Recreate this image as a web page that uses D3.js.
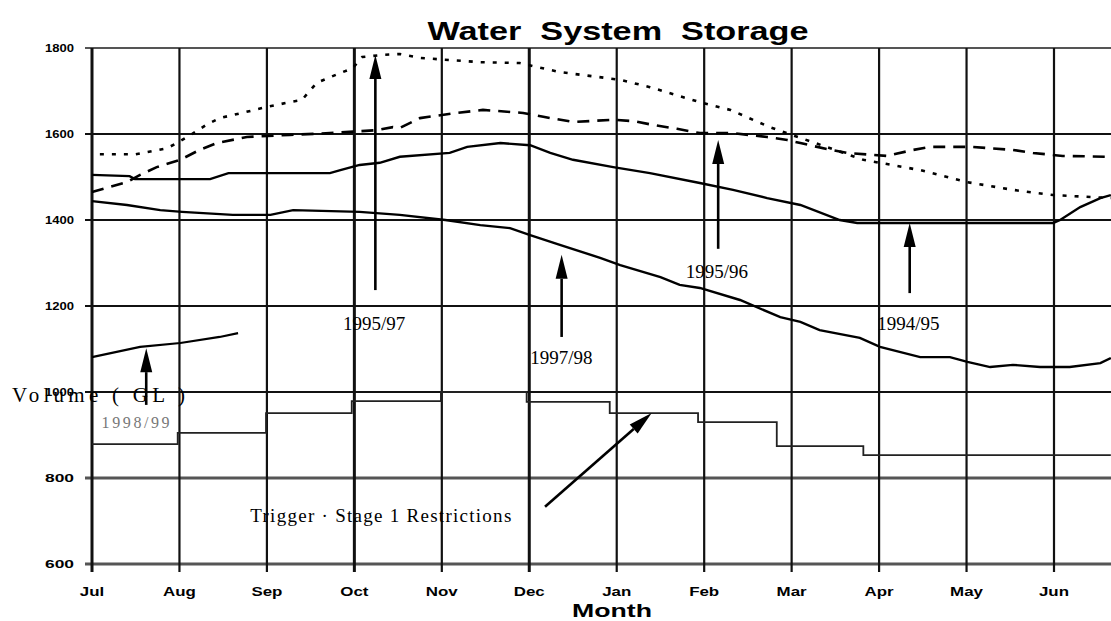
<!DOCTYPE html>
<html><head><meta charset="utf-8">
<script src="https://cdn.jsdelivr.net/npm/d3@7"></script>
<style>body{margin:0;background:#fff}svg{display:block}</style>
</head><body>
<svg id="c" width="1111" height="621"></svg>
<script>
const months = ["Jul","Aug","Sep","Oct","Nov","Dec","Jan","Feb","Mar","Apr","May","Jun"];
const yTicks = [600,800,1000,1200,1400,1600,1800];

// series: [month index (0 = Jul), volume GL]
const s199597 = [[0.09,1553],[0.5,1553],[0.86,1567],[0.97,1579],[1.09,1593],[1.32,1623],[1.46,1637],[1.86,1656],[2.0,1663],[2.26,1674],[2.4,1679],[2.57,1719],[2.84,1742],[2.98,1753],[3.09,1779],[3.33,1784],[3.52,1786],[3.75,1777],[4.09,1772],[4.44,1767],[4.89,1765],[5.35,1744],[6.04,1726],[6.38,1709],[6.95,1674],[7.3,1656],[7.75,1616],[8.1,1591],[8.82,1540],[9.01,1533],[9.47,1516],[10.01,1488],[10.53,1470],[10.99,1458],[11.65,1451]];
const s199596 = [[0,1465],[0.4,1488],[0.55,1505],[0.74,1523],[1.01,1540],[1.23,1563],[1.43,1579],[1.77,1593],[2.26,1598],[2.72,1602],[3.26,1609],[3.44,1616],[3.52,1614],[3.75,1637],[4.17,1649],[4.47,1656],[4.93,1649],[5.16,1640],[5.5,1628],[5.96,1633],[6.19,1630],[6.42,1621],[6.69,1612],[6.95,1602],[7.33,1602],[7.72,1593],[7.95,1586],[8.1,1579],[8.4,1565],[8.63,1556],[9.09,1549],[9.39,1563],[9.58,1570],[10.07,1570],[10.53,1563],[10.76,1556],[11.1,1549],[11.65,1547]];
const s199495 = [[0,1505],[0.43,1502],[0.49,1495],[1.35,1495],[1.56,1509],[2.72,1509],[2.84,1516],[3.06,1528],[3.29,1533],[3.52,1547],[4.09,1556],[4.29,1570],[4.67,1579],[5.01,1574],[5.24,1556],[5.5,1540],[5.96,1523],[6.38,1509],[6.95,1486],[7.33,1470],[7.72,1451],[8.1,1435],[8.55,1400],[8.75,1393],[10.99,1393],[11.07,1400],[11.3,1430],[11.53,1451],[11.65,1458]];
const s199798 = [[0,1444],[0.4,1435],[0.78,1423],[1.03,1419],[1.61,1412],[2.04,1412],[2.3,1423],[3.06,1419],[3.52,1412],[4.04,1400],[4.44,1388],[4.78,1381],[5.01,1365],[5.35,1342],[5.81,1312],[6.04,1295],[6.5,1267],[6.72,1249],[6.95,1242],[7.41,1214],[7.87,1174],[8.1,1163],[8.32,1144],[8.78,1126],[9.01,1105],[9.47,1081],[9.81,1081],[10.01,1070],[10.27,1058],[10.53,1063],[10.84,1058],[11.18,1058],[11.53,1067],[11.65,1079]];
const s199899 = [[0,1081],[0.55,1105],[1.01,1114],[1.46,1128],[1.67,1137]];
const triggerBreaks = [0,0.98,1.99,2.97,3.99,4.97,5.92,6.93,7.83,8.82,11.65];
const triggerValues = [879,905,951,979,1000,977,951,930,874,853];

// annotations: label, label position, arrow tail, arrow tip
const labels = [
  {t:"1995/97", m:2.87, v:1144},
  {t:"1997/98", m:5.01, v:1065},
  {t:"1995/96", m:6.79, v:1265},
  {t:"1994/95", m:8.98, v:1144},
  {t:"1998/99", m:0.11, v:916, grey:true, fs:16, len:68},
  {t:"Trigger · Stage 1 Restrictions", m:1.81, v:697, len:261}
];
const arrows = [
  {from:[3.24,1237], to:[3.24,1784]},
  {from:[5.37,1128], to:[5.37,1319]},
  {from:[7.16,1333], to:[7.16,1586]},
  {from:[9.35,1230], to:[9.35,1393]},
  {from:[0.62,970],  to:[0.62,1102]},
  {from:[5.18,733],  to:[6.4,951]}
];

const svg = d3.select("#c");
const x = d3.scaleLinear().domain([0,11]).range([92,1054]);
const y = d3.scaleLinear().domain([600,1800]).range([564,48]);
const SANS = "Liberation Sans, Arial, sans-serif";
const SERIF = "Liberation Serif, Times New Roman, serif";

// gridlines
svg.append("g").selectAll("line").data(yTicks).join("line")
  .attr("x1",85).attr("x2",1111).attr("y1",d=>y(d)).attr("y2",d=>y(d))
  .attr("stroke",d=>(d===600||d===800||d===1800)?"#555":"#111")
  .attr("stroke-width",d=>(d===600||d===800)?3:2.2);
svg.append("g").selectAll("line").data(months).join("line")
  .attr("x1",(d,i)=>x(i)).attr("x2",(d,i)=>x(i)).attr("y1",y(1800)).attr("y2",572)
  .attr("stroke","#111")
  .attr("stroke-width",(d,i)=>(i===0||i===3||i===5)?3:2.2);

// stretch helper: widen text horizontally like the scanned original
function stretch(sel, f){
  sel.each(function(){
    const w=this.getComputedTextLength();
    d3.select(this).attr("textLength",w*f).attr("lengthAdjust","spacingAndGlyphs");
  });
}

// y tick labels
svg.append("g").selectAll("text").data(yTicks).join("text")
  .attr("x",74).attr("y",d=>y(d)+4).attr("text-anchor","end")
  .attr("font-family",SANS).attr("font-weight","bold")
  .attr("font-size",11).attr("textLength",29).attr("lengthAdjust","spacingAndGlyphs")
  .text(d=>d);
// x tick labels
svg.append("g").selectAll("text").data(months).join("text")
  .attr("x",(d,i)=>x(i)).attr("y",596).attr("text-anchor","middle")
  .attr("font-family",SANS).attr("font-weight","bold")
  .attr("font-size",13).text(d=>d).call(stretch,1.3);

// title & axis titles
svg.append("text").attr("x",618).attr("y",40).attr("text-anchor","middle")
  .attr("font-family",SANS).attr("font-weight","bold").style("white-space","pre")
  .attr("font-size",25).attr("textLength",381).attr("lengthAdjust","spacingAndGlyphs")
  .text("Water  System  Storage");
svg.append("text").attr("x",612).attr("y",617).attr("text-anchor","middle")
  .attr("font-family",SANS).attr("font-weight","bold")
  .attr("font-size",18).attr("textLength",80).attr("lengthAdjust","spacingAndGlyphs")
  .text("Month");
svg.append("text").attr("x",12).attr("y",402)
  .attr("font-family",SERIF)
  .attr("font-size",21).attr("textLength",173).attr("lengthAdjust","spacing")
  .text("Volume ( GL )");

// series
const line = d3.line().x(d=>x(d[0])).y(d=>y(d[1]));
const series = [
  {d:s199597, dash:"4,8", w:2.6},
  {d:s199596, dash:"12,8", w:2.6},
  {d:s199495, dash:null, w:2.4},
  {d:s199798, dash:null, w:2.4},
  {d:s199899, dash:null, w:2.2}
];
svg.append("g").selectAll("path").data(series).join("path")
  .attr("d",s=>line(s.d)).attr("fill","none").attr("stroke","#000")
  .attr("stroke-width",s=>s.w).attr("stroke-dasharray",s=>s.dash);

// trigger step line
const stepPts = triggerBreaks.map((b,i)=>[b, triggerValues[Math.min(i,triggerValues.length-1)]]);
svg.append("path").attr("d",d3.line().x(d=>x(d[0])).y(d=>y(d[1])).curve(d3.curveStepAfter)(stepPts))
  .attr("fill","none").attr("stroke","#222").attr("stroke-width",1.8);

// arrows
const ag = svg.append("g");
arrows.forEach(a=>{
  const x1=x(a.from[0]), y1=y(a.from[1]), x2=x(a.to[0]), y2=y(a.to[1]);
  const ang=Math.atan2(y2-y1,x2-x1), L=24, W=6;
  const bx=x2-L*Math.cos(ang), by=y2-L*Math.sin(ang);
  ag.append("line").attr("x1",x1).attr("y1",y1).attr("x2",bx).attr("y2",by)
    .attr("stroke","#000").attr("stroke-width",2.6);
  const px=-Math.sin(ang)*W, py=Math.cos(ang)*W;
  ag.append("path").attr("d",`M${x2},${y2}L${bx+px},${by+py}L${bx-px},${by-py}Z`).attr("fill","#000");
});

// labels
svg.append("g").selectAll("text").data(labels).join("text")
  .attr("x",d=>x(d.m)).attr("y",d=>y(d.v))
  .attr("font-family",SERIF)
  .attr("font-size",d=>d.fs||19).attr("fill",d=>d.grey?"#777":"#000")
  .attr("textLength",d=>d.len||null).attr("lengthAdjust","spacing")
  .text(d=>d.t);
</script>
</body></html>
